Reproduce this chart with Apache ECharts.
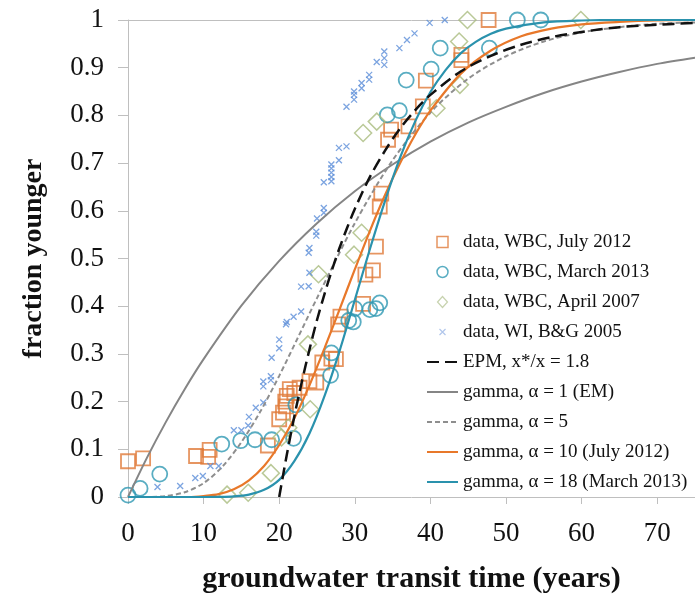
<!DOCTYPE html>
<html>
<head>
<meta charset="utf-8">
<script src="https://cdn.jsdelivr.net/npm/echarts/dist/echarts.min.js"></script>
<style>
html,body{margin:0;padding:0;background:#ffffff;}
#chart{width:695px;height:599px;}
</style>
</head>
<body>
<div id="chart"></div>
<script>
// ---- axis ticks ----
const xTickValues = [0, 10, 20, 30, 40, 50, 60, 70];
const yTickValues = [0, 0.1, 0.2, 0.3, 0.4, 0.5, 0.6, 0.7, 0.8, 0.9, 1];

// ---- data series (transit time in years, fraction younger) ----
const july2012 = [[0,0.075],[2.0,0.081],[9.0,0.086],[10.6,0.084],[10.8,0.099],[18.5,0.108],[20.0,0.163],[20.5,0.177],[20.9,0.19],[20.8,0.2],[21.0,0.212],[21.4,0.226],[22.0,0.218],[22.7,0.229],[24.0,0.243],[24.9,0.24],[25.7,0.282],[26.9,0.29],[27.5,0.289],[27.8,0.362],[28.1,0.378],[31.1,0.405],[31.4,0.466],[32.4,0.475],[32.8,0.525],[33.3,0.609],[33.5,0.636],[34.4,0.749],[34.8,0.770],[37.1,0.777],[39.0,0.819],[39.4,0.873],[44.1,0.916],[44.1,0.927],[47.7,1.0]];
const march2013 = [[0,0.004],[1.6,0.018],[4.2,0.048],[12.4,0.111],[14.9,0.118],[16.8,0.12],[19.0,0.12],[21.9,0.123],[22.2,0.193],[26.8,0.255],[26.9,0.302],[29.2,0.37],[29.8,0.367],[30.0,0.395],[32.0,0.393],[32.8,0.395],[33.3,0.407],[34.3,0.801],[35.9,0.81],[36.8,0.874],[40.1,0.897],[41.3,0.941],[47.8,0.941],[51.5,1.0],[54.6,1.0]];
const april2007 = [[13.1,0.005],[15.9,0.009],[18.9,0.05],[20.3,0.125],[21.2,0.145],[24.1,0.184],[23.8,0.32],[25.2,0.467],[29.9,0.508],[30.9,0.554],[31.1,0.763],[32.9,0.787],[40.8,0.815],[43.9,0.864],[43.8,0.955],[44.9,1.0],[59.9,1.0]];
const wiBG2005 = [[3.9,0.021],[6.9,0.023],[8.9,0.040],[9.9,0.044],[10.9,0.065],[12.0,0.065],[14.0,0.140],[15.0,0.140],[15.9,0.150],[16.0,0.168],[16.9,0.187],[17.9,0.198],[17.9,0.232],[17.9,0.242],[18.9,0.245],[18.9,0.253],[19.0,0.292],[20.0,0.312],[20.0,0.330],[20.9,0.362],[21.0,0.367],[21.9,0.378],[22.9,0.389],[22.9,0.441],[23.9,0.442],[24.0,0.470],[23.9,0.512],[24.0,0.522],[24.9,0.548],[24.9,0.556],[25.0,0.584],[25.9,0.596],[25.9,0.606],[25.9,0.660],[26.9,0.662],[26.9,0.671],[26.9,0.680],[26.9,0.689],[26.9,0.697],[27.9,0.706],[27.9,0.732],[28.9,0.735],[28.9,0.818],[29.9,0.833],[29.9,0.843],[29.9,0.850],[30.9,0.857],[30.9,0.868],[31.9,0.875],[31.9,0.885],[32.9,0.912],[33.9,0.906],[33.9,0.920],[33.9,0.934],[35.9,0.941],[36.9,0.958],[37.9,0.972],[39.9,0.994],[41.9,1.0]];

// ---- model curves ----
const epm = [[20,0],[21,0.088],[22,0.169],[23,0.242],[24,0.309],[25,0.371],[26,0.426],[27,0.477],[28,0.523],[29,0.565],[30,0.604],[32,0.671],[34,0.726],[36,0.773],[38,0.811],[40,0.843],[44,0.892],[48,0.925],[52,0.948],[56,0.964],[60,0.975],[65,0.985],[70,0.990],[75,0.994]];
const gammaEM = [[0,0],[2.5,0.082],[5,0.157],[7.5,0.226],[10,0.289],[15,0.401],[20,0.495],[25,0.574],[30,0.641],[35,0.697],[40,0.745],[45,0.785],[50,0.818],[55,0.847],[60,0.871],[65,0.891],[70,0.908],[75,0.921]];
const gamma5 = [[0,0],[2.5,0],[5,0.002],[7.5,0.010],[10,0.029],[12.5,0.064],[15,0.115],[17.5,0.179],[20,0.254],[22.5,0.335],[25,0.417],[30,0.574],[35,0.706],[40,0.806],[45,0.877],[50,0.924],[55,0.955],[60,0.974],[65,0.985],[70,0.992],[75,0.995]];
const gamma10 = [[0,0],[2,0],[4,0],[6,0],[8,0],[10,0.002],[12,0.006],[14,0.016],[16,0.035],[18,0.065],[20,0.109],[22,0.165],[24,0.234],[26,0.312],[28,0.394],[30,0.477],[32,0.558],[34,0.633],[36,0.700],[38,0.760],[40,0.810],[44,0.887],[48,0.936],[52,0.966],[56,0.982],[60,0.991],[65,0.996],[70,0.999],[75,1.0]];
const gamma18 = [[0,0],[2,0],[4,0],[6,0],[8,0],[10,0],[12,0.0002],[14,0.0013],[16,0.005],[18,0.015],[20,0.036],[22,0.075],[24,0.133],[26,0.212],[28,0.307],[30,0.413],[32,0.52],[34,0.621],[36,0.712],[38,0.788],[40,0.849],[42,0.895],[44,0.93],[46,0.954],[48,0.971],[50,0.982],[55,0.995],[60,0.999],[65,1.0],[70,1.0],[75,1.0]];

const names = ['data, WBC, July 2012','data, WBC, March 2013','data, WBC, April 2007','data, WI, B&G 2005','EPM, x*/x = 1.8','gamma, \u03b1 = 1 (EM)','gamma, \u03b1 = 5','gamma, \u03b1 = 10 (July 2012)','gamma, \u03b1 = 18 (March 2013)'];

const C = {orange:'#E07B39', teal:'#2F98B3', olive:'#A9BB7E', blue:'#5B8DD8', black:'#111111', gray:'#858585', dgray:'#8E8E8E', lorange:'#E8782A', lteal:'#2A92AD'};
const FONT = '"Liberation Serif", "Times New Roman", serif';
const AX = '#BFBFBF';
const xPath = 'path://M0,0L10,10M10,0L0,10';
// legend icons: invisible move-to points pad the box so the glyph keeps its shape
const iconRect = 'path://M-9.5,0M20.5,11M0,0L11,0L11,11L0,11Z';
const iconCircle = 'path://M-9.5,0M20.5,11M11,5.5A5.5,5.5,0,1,1,0,5.5A5.5,5.5,0,1,1,11,5.5Z';
const iconDiamond = 'path://M-10,0M20,11M5,0L10,5.5L5,11L0,5.5Z';
const iconX = 'path://M-12,-2.5M18,8.5M0,0L6,6M6,0L0,6';
const noMark = {color:'rgba(0,0,0,0)', borderColor:'rgba(0,0,0,0)', borderWidth:0, opacity:0};

const chart = echarts.init(document.getElementById('chart'), null, {renderer:'canvas'});

function scatter(name, data, symbol, size, color, bw) {
  return {name, type:'scatter', data, symbol, symbolSize:size, z:3,
    itemStyle:{color:'rgba(0,0,0,0)', borderColor:color, borderWidth:bw}};
}
function line(name, data, color, width, type, z) {
  return {name, type:'line', data, symbol:'none', showSymbol:false, smooth:0.3, z:z,
    lineStyle:{color, width, type}, itemStyle:{color}};
}

chart.setOption({
  animation:false,
  backgroundColor:'#ffffff',
  grid:{left:128, right:0, top:20, bottom:101, containLabel:false},
  xAxis:[{
    type:'value', min:0, max:75, interval:10,
    name:'groundwater transit time (years)', nameLocation:'middle', nameGap:67,
    nameTextStyle:{fontFamily:FONT, fontSize:30, fontWeight:'bold', color:'#111'},
    axisLine:{show:true, lineStyle:{color:AX, width:1}},
    axisTick:{show:true, length:7, lineStyle:{color:AX}},
    axisLabel:{fontFamily:FONT, fontSize:27, color:'#111', margin:23, showMaxLabel:false,
      formatter:v => xTickValues.indexOf(v) >= 0 ? String(v) : ''},
    splitLine:{show:false}
  },{
    type:'value', min:0, max:75, position:'top',
    axisLine:{show:true, lineStyle:{color:AX, width:1}},
    axisTick:{show:false}, axisLabel:{show:false}, splitLine:{show:false}
  }],
  yAxis:{
    type:'value', min:0, max:1, interval:0.1,
    name:'fraction younger', nameLocation:'middle', nameGap:80,
    nameTextStyle:{fontFamily:FONT, fontSize:28, fontWeight:'bold', color:'#111'},
    axisLine:{show:true, lineStyle:{color:AX, width:1}},
    axisTick:{show:true, length:10, lineStyle:{color:AX}},
    axisLabel:{fontFamily:FONT, fontSize:27, color:'#111', margin:24,
      formatter:v => { const r = Math.round(v*10)/10; return yTickValues.indexOf(r) >= 0 ? String(r) : ''; }},
    splitLine:{show:false}
  },
  legend:{
    orient:'vertical', left:421, top:227, itemWidth:31, itemHeight:11, itemGap:10,
    selectedMode:false,
    textStyle:{fontFamily:FONT, fontSize:19, lineHeight:20, color:'#111'},
    data:[
      {name:names[0], icon:iconRect, itemStyle:{color:'rgba(0,0,0,0)', borderColor:C.orange, borderWidth:1.5}},
      {name:names[1], icon:iconCircle, itemStyle:{color:'rgba(0,0,0,0)', borderColor:C.teal, borderWidth:1.5}},
      {name:names[2], icon:iconDiamond, itemStyle:{color:'rgba(0,0,0,0)', borderColor:'#B9C79A', borderWidth:1.2}},
      {name:names[3], icon:iconX, itemStyle:{color:'rgba(0,0,0,0)', borderColor:'#9DB8E6', borderWidth:1.2}},
      {name:names[4], itemStyle:noMark},
      {name:names[5], itemStyle:noMark},
      {name:names[6], itemStyle:noMark},
      {name:names[7], itemStyle:noMark},
      {name:names[8], itemStyle:noMark}
    ]
  },
  series:[
    scatter(names[0], july2012, 'rect', 14, C.orange, 1.8),
    scatter(names[1], march2013, 'circle', 15, C.teal, 1.8),
    scatter(names[2], april2007, 'diamond', 17, C.olive, 1.5),
    scatter(names[3], wiBG2005, xPath, 6, C.blue, 1.3),
    line(names[4], epm, C.black, 2.5, [12,6], 5),
    line(names[5], gammaEM, C.gray, 2, 'solid', 4),
    line(names[6], gamma5, C.dgray, 2, [5,3], 4),
    line(names[7], gamma10, C.lorange, 2.2, 'solid', 4),
    line(names[8], gamma18, C.lteal, 2.2, 'solid', 4)
  ]
});
</script>
</body>
</html>
